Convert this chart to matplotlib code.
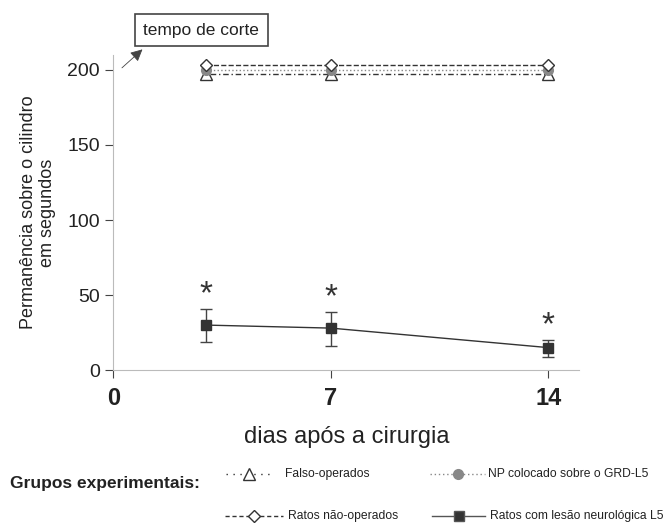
import matplotlib
matplotlib.use("Agg")
import matplotlib.pyplot as plt
from matplotlib.lines import Line2D

plt.rcParams['font.family'] = ['Liberation Sans', 'DejaVu Sans']

dias = [3, 7, 14]
falso = [197, 197, 197]
np_grd = [200, 200, 200]
nao_operados = [203, 203, 203]
lesao = [30, 28, 15]
lesao_sup = [41, 39, 20]
lesao_inf = [19, 16, 9]

fig = plt.figure(figsize=(6.66, 5.28), dpi=100)
ax = fig.add_axes([0.17, 0.299, 0.70, 0.597])

dark = '#333333'
ax.plot(dias, falso, ls=(0, (1, 2, 4, 2)), color=dark, lw=1, marker='^', ms=8,
        mfc='white', mec=dark)
ax.plot(dias, np_grd, ls=':', color='#888888', lw=1, marker='o', ms=7,
        mfc='#888888', mec='#888888')
ax.plot(dias, nao_operados, ls='--', color=dark, lw=1, marker='D', ms=6,
        mfc='white', mec=dark)

err = [[v - lo for v, lo in zip(lesao, lesao_inf)], [hi - v for v, hi in zip(lesao, lesao_sup)]]
ax.errorbar(dias, lesao, yerr=err, color=dark, lw=1, marker='s', ms=7,
            capsize=4, elinewidth=1, ecolor='#444444')
for d, hi in zip(dias, lesao_sup):
    ax.text(d, hi - 1, '*', ha='center', va='bottom', fontsize=24, color=dark)

ax.set_xlim(0, 15)
ax.set_ylim(0, 210)
ax.set_xticks([0, 7, 14])
ax.set_xticklabels(['0', '7', '14'], fontsize=17, fontweight='bold', color='#222222')
ax.set_yticks([0, 50, 100, 150, 200])
ax.tick_params(axis='y', labelsize=14, colors='#222222', length=6, color='#444444')
ax.tick_params(axis='x', length=6, color='#444444', pad=6)
for s in ['top', 'right']:
    ax.spines[s].set_visible(False)
ax.spines['left'].set_color('#bbbbbb')
ax.spines['bottom'].set_color('#bbbbbb')

ax.set_xlabel('dias após a cirurgia', fontsize=17, color='#222222', labelpad=12)
ax.set_ylabel('Permanência sobre o cilindro\nem segundos', fontsize=13,
              color='#222222', labelpad=8)

fig.text(0.302, 0.943, 'tempo de corte', fontsize=12.5, ha='center', va='center',
         color='#222222',
         bbox=dict(boxstyle='square,pad=0.5', fc='white', ec='#444444', lw=1.2))
ax.annotate('', xy=(0.217, 0.91), xycoords='figure fraction',
            xytext=(0.18, 0.868), textcoords='figure fraction',
            arrowprops=dict(arrowstyle='-|>', color='#444444', lw=0.6,
                            mutation_scale=18))

# legenda manual
fig.text(0.015, 0.085, 'Grupos experimentais:', fontsize=12.5, fontweight='bold',
         color='#222222', va='center')


def item(x0, x1, xt, y, ls, color, marker, mfc, ms, label):
    xm = (x0 + x1) / 2
    fig.add_artist(Line2D([x0, x1], [y, y], ls=ls, color=color, lw=1,
                          transform=fig.transFigure))
    fig.add_artist(Line2D([xm], [y], marker=marker, mfc=mfc, mec=color, ms=ms,
                          transform=fig.transFigure))
    fig.text(xt, y, label, fontsize=8.7, color='#222222', va='center')


item(0.339, 0.41, 0.428, 0.102, (0, (1, 4)), dark, '^', 'white', 8, 'Falso-operados')
item(0.646, 0.728, 0.733, 0.102, (0, (1, 2)), '#888888', 'o', '#888888', 7,
     'NP colocado sobre o GRD-L5')
item(0.338, 0.425, 0.432, 0.022, (0, (3, 2)), dark, 'D', 'white', 6, 'Ratos não-operados')
item(0.649, 0.728, 0.736, 0.022, '-', '#555555', 's', dark, 7,
     'Ratos com lesão neurológica L5')

fig.savefig('out.png', dpi=100)
